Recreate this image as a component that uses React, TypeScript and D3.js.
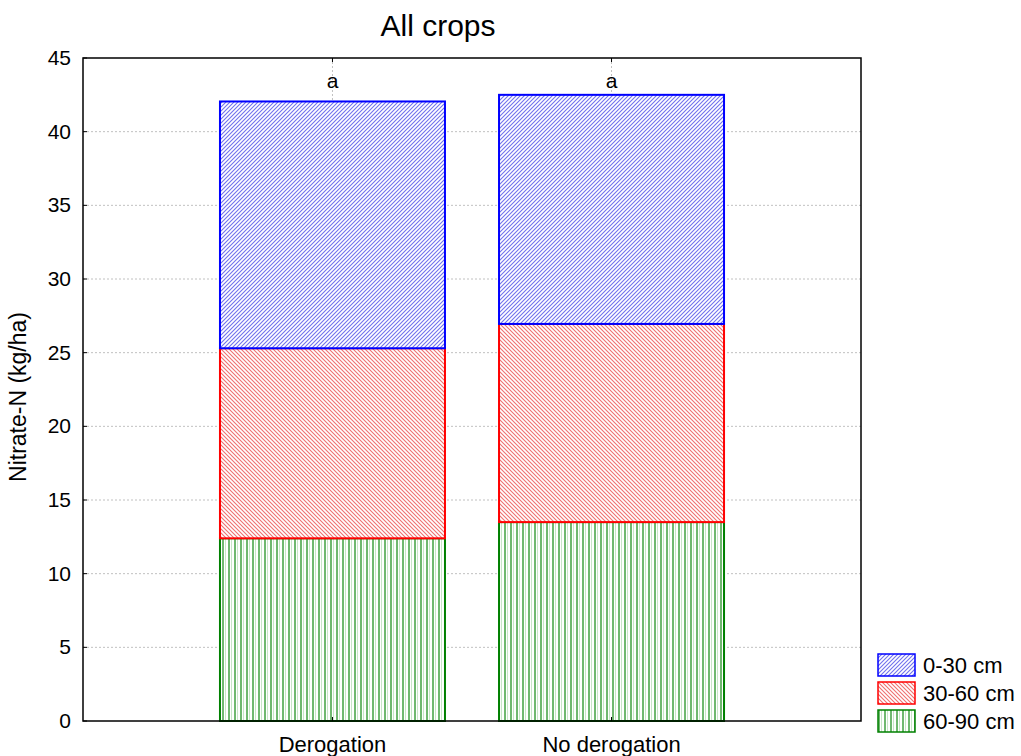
import React, { useEffect, useRef } from 'react';
import * as d3 from 'd3';

const categories = ['Derogation', 'No derogation'];
const layers = ['60-90 cm', '30-60 cm', '0-30 cm'];
const values60to90 = [12.4, 13.5];
const values30to60 = [12.9, 13.45];
const values0to30 = [16.75, 15.55];
const letters = ['a', 'a'];
const yTicks = [0, 5, 10, 15, 20, 25, 30, 35, 40, 45];

const layerColors: Record<string, string> = {
  '0-30 cm': '#0000ff',
  '30-60 cm': '#ff0000',
  '60-90 cm': '#008000',
};
const patternIds: Record<string, string> = {
  '0-30 cm': 'pat-blue',
  '30-60 cm': 'pat-red',
  '60-90 cm': 'pat-green',
};

const App = () => {
  const svgRef = useRef<SVGSVGElement>(null);

  useEffect(() => {
    const svg = d3.select(svgRef.current);
    svg.selectAll('*').remove();
    const font = 'Liberation Sans, Arial, sans-serif';

    const left = 83, right = 861, top = 58, bottom = 721;

    const rows = categories.map((c, i) => ({
      cat: c,
      '60-90 cm': values60to90[i],
      '30-60 cm': values30to60[i],
      '0-30 cm': values0to30[i],
    }));
    const stacked = d3.stack<any>().keys(layers)(rows);

    const x = d3.scalePoint().domain(categories).range([left, right]).padding(0.894);
    const barW = 225;
    const y = d3.scaleLinear().domain([0, 45]).range([bottom, top]);

    // patterns
    const defs = svg.append('defs');
    const blue = defs.append('pattern').attr('id', 'pat-blue').attr('patternUnits', 'userSpaceOnUse')
      .attr('width', 4).attr('height', 4);
    blue.append('rect').attr('width', 4).attr('height', 4).attr('fill', '#fff');
    blue.append('path').attr('d', 'M-1,5 L5,-1 M-1,1 L1,-1 M3,5 L5,3')
      .attr('stroke', '#7070ee').attr('stroke-width', 1.1);
    const red = defs.append('pattern').attr('id', 'pat-red').attr('patternUnits', 'userSpaceOnUse')
      .attr('width', 4).attr('height', 4);
    red.append('rect').attr('width', 4).attr('height', 4).attr('fill', '#fff');
    red.append('path').attr('d', 'M-1,-1 L5,5 M3,-1 L5,1 M-1,3 L1,5')
      .attr('stroke', '#f07070').attr('stroke-width', 1.1);
    const green = defs.append('pattern').attr('id', 'pat-green').attr('patternUnits', 'userSpaceOnUse')
      .attr('width', 6).attr('height', 6);
    green.append('rect').attr('width', 6).attr('height', 6).attr('fill', '#fff');
    green.append('rect').attr('x', 0).attr('width', 2).attr('height', 6).attr('fill', '#70b870');
    green.append('rect').attr('x', 3).attr('width', 1).attr('height', 6).attr('fill', '#c8e6c8');

    // grid lines
    svg.append('g').selectAll('line').data(yTicks.slice(1, -1)).enter().append('line')
      .attr('x1', left).attr('x2', right)
      .attr('y1', d => y(d)).attr('y2', d => y(d))
      .attr('stroke', '#b0b0b0').attr('stroke-width', 0.8).attr('stroke-dasharray', '2,2');
    svg.append('g').selectAll('line').data(categories).enter().append('line')
      .attr('x1', d => x(d)!).attr('x2', d => x(d)!)
      .attr('y1', top).attr('y2', bottom)
      .attr('stroke', '#b0b0b0').attr('stroke-width', 0.8).attr('stroke-dasharray', '2,2');

    // bars
    stacked.forEach(layer => {
      const key = layer.key;
      svg.append('g').selectAll('rect').data(layer).enter().append('rect')
        .attr('x', d => x(d.data.cat)! - barW / 2)
        .attr('width', barW)
        .attr('y', d => y(d[1]))
        .attr('height', d => y(d[0]) - y(d[1]))
        .attr('fill', `url(#${patternIds[key]})`)
        .attr('stroke', layerColors[key]).attr('stroke-width', 2);
    });

    // letters
    svg.append('g').selectAll('text').data(categories).enter().append('text')
      .attr('x', d => x(d)!).attr('y', 88)
      .attr('text-anchor', 'middle').attr('font-family', font).attr('font-size', 21)
      .text((d, i) => letters[i]);

    // frame
    svg.append('rect').attr('x', left).attr('y', top).attr('width', right - left).attr('height', bottom - top)
      .attr('fill', 'none').attr('stroke', '#000').attr('stroke-width', 1.5);

    // y ticks
    const yt = svg.append('g');
    yt.selectAll('line').data(yTicks).enter().append('line')
      .attr('x1', left).attr('x2', left + 4).attr('y1', d => y(d)).attr('y2', d => y(d))
      .attr('stroke', '#000');
    yt.selectAll('text').data(yTicks).enter().append('text')
      .attr('x', 71).attr('y', d => y(d) + 7)
      .attr('text-anchor', 'end').attr('font-family', font).attr('font-size', 21)
      .text(d => d);

    // x ticks
    const xt = svg.append('g');
    xt.selectAll('line').data(categories).enter().append('line')
      .attr('x1', d => x(d)!).attr('x2', d => x(d)!).attr('y1', top).attr('y2', top + 4)
      .attr('stroke', '#000');
    xt.selectAll('line.b').data(categories).enter().append('line').attr('class', 'b')
      .attr('x1', d => x(d)!).attr('x2', d => x(d)!).attr('y1', bottom).attr('y2', bottom - 4)
      .attr('stroke', '#000');
    xt.selectAll('text').data(categories).enter().append('text')
      .attr('x', d => x(d)!).attr('y', 752)
      .attr('text-anchor', 'middle').attr('font-family', font).attr('font-size', 22)
      .text(d => d);

    // title
    svg.append('text').attr('x', 438).attr('y', 36).attr('text-anchor', 'middle')
      .attr('font-family', font).attr('font-size', 30).text('All crops');

    // y label
    svg.append('text').attr('transform', `translate(26,397) rotate(-90)`)
      .attr('text-anchor', 'middle').attr('font-family', font).attr('font-size', 23)
      .text('Nitrate-N (kg/ha)');

    // legend
    const legendOrder = ['0-30 cm', '30-60 cm', '60-90 cm'];
    const lg = svg.append('g').selectAll('g').data(legendOrder).enter().append('g')
      .attr('transform', (d, i) => `translate(878,${654 + i * 28})`);
    lg.append('rect').attr('width', 37).attr('height', 22)
      .attr('fill', d => `url(#${patternIds[d]})`)
      .attr('stroke', d => layerColors[d]).attr('stroke-width', 1.5);
    lg.append('text').attr('x', 45).attr('y', 19).attr('font-family', font).attr('font-size', 22)
      .text(d => d);
  });

  return (
    <svg ref={svgRef} width={1021} height={756} style={{ position: 'absolute', left: 0, top: 0, background: '#fff' }}></svg>
  );
};

export default App;
